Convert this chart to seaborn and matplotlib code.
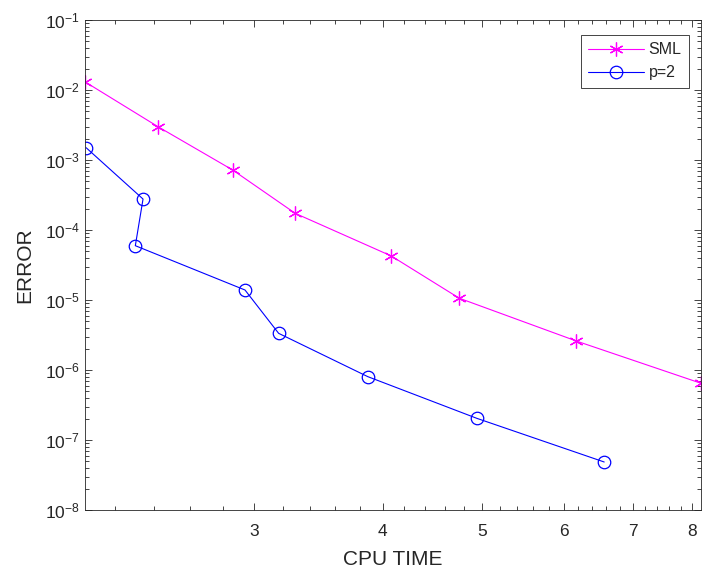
import matplotlib
matplotlib.use("Agg")
import matplotlib.pyplot as plt
from matplotlib.ticker import FixedLocator, MultipleLocator, NullFormatter, LogLocator
import seaborn as sns
import pandas as pd

# values
sml_time = [2.055, 2.42, 2.86, 3.29, 4.08, 4.75, 6.17, 8.16]
sml_error = [1.31e-2, 2.99e-3, 7.2e-4, 1.73e-4, 4.25e-5, 1.06e-5, 2.6e-6, 6.46e-7]

p2_time = [2.06, 2.34, 2.30, 2.94, 3.17, 3.87, 4.94, 6.57]
p2_error = [1.5e-3, 2.77e-4, 5.97e-5, 1.39e-5, 3.34e-6, 8.04e-7, 2.04e-7, 4.85e-8]

x_ticks = [3, 4, 5, 6, 7, 8]
x_tick_labels = ["3", "4", "5", "6", "7", "8"]

sml = pd.DataFrame({"time": sml_time, "error": sml_error})
p2 = pd.DataFrame({"time": p2_time, "error": p2_error})

sns.set_style("ticks")
plt.rcParams["font.family"] = ["Liberation Sans", "DejaVu Sans"]
plt.rcParams["mathtext.fontset"] = "custom"
plt.rcParams["mathtext.rm"] = "Liberation Sans"
plt.rcParams["mathtext.it"] = "Liberation Sans:italic"

axis_grey = "#262626"

fig = plt.figure(figsize=(7.02, 5.72), dpi=100)
ax = fig.add_axes([0.1211, 0.1084, 0.8775, 0.8566])

sns.lineplot(data=sml, x="time", y="error", sort=False, estimator=None,
             color="#FF00FF", marker=(6, 2, 0), markersize=10,
             markeredgecolor="#FF00FF", markeredgewidth=0.9,
             linewidth=0.8, label="SML", ax=ax)
sns.lineplot(data=p2, x="time", y="error", sort=False, estimator=None,
             color="#0000FF", marker="o", markersize=9, fillstyle="none",
             markeredgecolor="#0000FF", markeredgewidth=0.9,
             linewidth=0.8, label="p=2", ax=ax)

ax.set_xscale("log")
ax.set_yscale("log")
ax.set_xlim(2.055, 8.16)
ax.set_ylim(1e-8, 1e-1)

ax.xaxis.set_major_locator(FixedLocator(x_ticks))
ax.set_xticklabels(x_tick_labels)
ax.xaxis.set_minor_locator(MultipleLocator(0.2))
ax.xaxis.set_minor_formatter(NullFormatter())
ax.yaxis.set_major_locator(LogLocator(base=10, numticks=20))
ax.yaxis.set_minor_locator(LogLocator(base=10, subs=range(2, 10), numticks=20))
ax.yaxis.set_minor_formatter(NullFormatter())

ax.tick_params(which="both", direction="in", top=True, right=True,
               colors=axis_grey, labelsize=12.5, width=0.6)
ax.tick_params(which="major", length=5)
ax.tick_params(which="minor", length=2.8)
ax.tick_params(axis="x", pad=10)
for side in ["top", "right", "bottom", "left"]:
    ax.spines[side].set_visible(True)
    ax.spines[side].set_color(axis_grey)
    ax.spines[side].set_linewidth(0.6)

ax.set_xlabel("CPU TIME", fontsize=15, color=axis_grey, labelpad=8)
ax.set_ylabel("ERROR", fontsize=15, color=axis_grey, labelpad=8)

leg = ax.legend(loc="upper right", fontsize=11.5, frameon=True, fancybox=False,
                edgecolor=axis_grey, framealpha=1, handlelength=3.5,
                borderpad=0.45, labelspacing=0.5, handletextpad=0.3,
                borderaxespad=0, bbox_to_anchor=(0.98, 0.969))
leg.get_frame().set_linewidth(0.6)

plt.savefig("out.png", dpi=100)
plt.close()
